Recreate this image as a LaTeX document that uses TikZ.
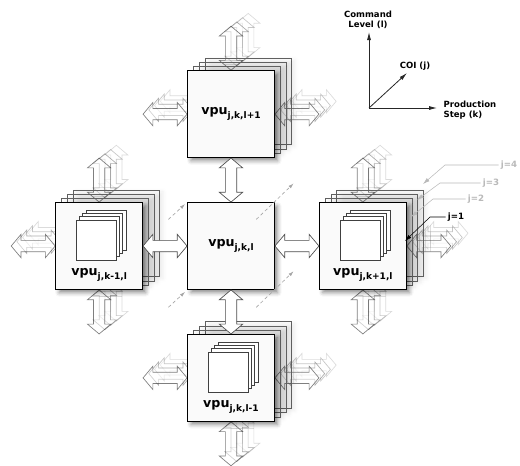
\documentclass[tikz,border=0pt]{standalone}
\usepackage{fontspec}
\setmainfont{DejaVu Sans}
\usetikzlibrary{positioning,shapes.arrows,arrows.meta,calc,backgrounds,shadows.blur}

\newcommand{\vpu}[1]{vpu\raisebox{-0.55ex}{\fontsize{6.8}{7}\selectfont #1}}

\tikzset{
  box/.style={draw=black, line width=0.9pt, fill=gray!4, minimum size=65pt, inner sep=0pt,
    font=\bfseries\fontsize{9.5}{11}\selectfont,
    blur shadow={shadow xshift=2.5pt, shadow yshift=-2.5pt, shadow blur radius=3pt, shadow opacity=45}},
  layer/.style={draw=gray!75!black, line width=0.4pt, minimum size=65pt, inner sep=0pt,
    blur shadow={shadow xshift=2.5pt, shadow yshift=-1.5pt, shadow blur radius=3pt, shadow opacity=7}},
  minisq/.style={draw=black!75, line width=0.4pt, fill=white, minimum size=30pt, inner sep=0pt},
  linkarrow/.style={shape=double arrow, draw=black!70, line width=0.5pt, fill=white,
    inner xsep=0pt, inner ysep=4pt, minimum width=17pt, double arrow head extend=4.5pt,
    double arrow tip angle=100, minimum height=33pt},
  fadearrow/.style={linkarrow, draw=black, fill opacity=0.45},
  vlabel/.style={font=\bfseries\fontsize{9.5}{11}\selectfont},
  axislabel/.style={font=\bfseries\fontsize{6.4}{7.6}\selectfont, align=center},
  axisarrow/.style={-{Latex[length=6pt,width=3pt]}, line width=0.6pt, draw=black!85},
  jlabel/.style={font=\bfseries\fontsize{6.5}{7.5}\selectfont, inner sep=1.5pt},
  pointer/.style={-{Latex[length=5pt,width=3pt]}, line width=0.4pt},
  jdir/.style={dash pattern=on 2.5pt off 2pt, draw=gray!70, line width=0.5pt,
    -{Latex[length=4pt,width=2.5pt]}},
}

\begin{document}
\begin{tikzpicture}[x=0.75pt,y=-0.75pt]
  \useasboundingbox (0,0) rectangle (520,465);

  % the five front boxes
  \node[box] (c) at (231,246) {\vpu{j,k,l}};
  \node[box, above=33pt of c] (t) {\vpu{j,k,l+1}};
  \node[box, left=33pt of c] (l) {};
  \node[box, right=33pt of c] (r) {};
  \node[box, below=33pt of c] (b) {};

  % labels and stacked squares in the outer boxes
  \node[vlabel] (l-lab) at ([yshift=11pt]l.south) {\vpu{j,k-1,l}};
  \node[vlabel] (r-lab) at ([yshift=11pt]r.south) {\vpu{j,k+1,l}};
  \node[vlabel] (b-lab) at ([yshift=11pt]b.south) {\vpu{j,k,l-1}};
  \foreach \bx in {l,r,b}
    \foreach \k in {3,2,1,0}
      \node[minisq] (\bx-sq\k) at ([shift={(-2.3pt+\k*2.5pt,4.5pt+\k*2.5pt)}]\bx.center) {};

  % layers j=2..4 and the links leaving them
  \begin{scope}[on background layer]
    \foreach \bx/\an/\rot/\dx/\dy in {t/north/90/0/16.5, t/west/0/-16.5/0, t/east/0/16.5/0,
        l/north/90/0/16.5, l/west/0/-16.5/0, l/south/90/0/-16.5,
        r/north/90/0/16.5, r/east/0/16.5/0, r/south/90/0/-16.5,
        b/west/0/-16.5/0, b/east/0/16.5/0, b/south/90/0/-16.5}
      \foreach \k/\op in {3/0.14,2/0.22,1/0.32,0/0.5}
        \node[fadearrow, rotate=\rot, draw opacity=\op] (\bx-\an\k)
          at ([shift={(\k*4.3pt+\dx*1pt,\k*3.2pt+\dy*1pt)}]\bx.\an) {};
    \foreach \bx in {t,l,r,b}
      \foreach \k in {3,2,1}
        \node[layer] (\bx-ly\k) at ([shift={(\k*4.3pt,\k*3.2pt)}]\bx.center) {};
  \end{scope}

  % links to the centre box
  \node[linkarrow, rotate=90] (a-ct) at ($(c.north)!0.5!(t.south)$) {};
  \node[linkarrow, rotate=90] (a-cb) at ($(c.south)!0.5!(b.north)$) {};
  \node[linkarrow] (a-cl) at ($(l.east)!0.5!(c.west)$) {};
  \node[linkarrow] (a-cr) at ($(c.east)!0.5!(r.west)$) {};

  % j direction through the corners
  \foreach \i/\cn/\ex in {1/north west/-1.5, 2/north east/14, 3/south west/-1.5, 4/south east/14} {
    \coordinate (jd\i-a) at ([shift={(-14pt,-13pt)}]c.\cn);
    \coordinate (jd\i-b) at ([shift={(\ex*1pt,\ex*1pt)}]c.\cn);
    \draw[jdir] (jd\i-a) -- (jd\i-b);
  }

  % axes
  \coordinate (ax-o) at (369,108);
  \coordinate (ax-l) at (369,32);
  \coordinate (ax-k) at (437,108);
  \coordinate (ax-j) at (407,73);
  \draw[axisarrow] (ax-o) -- (ax-l);
  \draw[axisarrow] (ax-o) -- (ax-k);
  \draw[axisarrow] (ax-o) -- (ax-j);
  \node[axislabel] (lbl-l) at (368,20) {Command\\Level (l)};
  \node[axislabel] (lbl-j) at (415,66) {COI (j)};
  \node[axislabel, align=left, anchor=west] (lbl-k) at (439,110) {Production\\Step (k)};

  % layer labels
  \node[jlabel] (j1) at (456,217) {j=1};
  \node[jlabel, text=gray!55] (j2) at (476,199) {j=2};
  \node[jlabel, text=gray!55] (j3) at (491,183) {j=3};
  \node[jlabel, text=gray!55] (j4) at (509,165) {j=4};
  \coordinate (j1-bend) at (430,217);
  \coordinate (j2-bend) at (433,199);
  \coordinate (j3-bend) at (440,183);
  \coordinate (j4-bend) at (445,165);
  \coordinate (j1-tip) at (405,241);
  \coordinate (j2-tip) at (411,217);
  \coordinate (j3-tip) at (417,200);
  \coordinate (j4-tip) at (423,184);
  \draw[pointer] (j1.west) -- (j1-bend) -- (j1-tip);
  \foreach \i in {2,3,4}
    \draw[pointer, draw=gray!55] (j\i.west) -- (j\i-bend) -- (j\i-tip);
\end{tikzpicture}
\end{document}
